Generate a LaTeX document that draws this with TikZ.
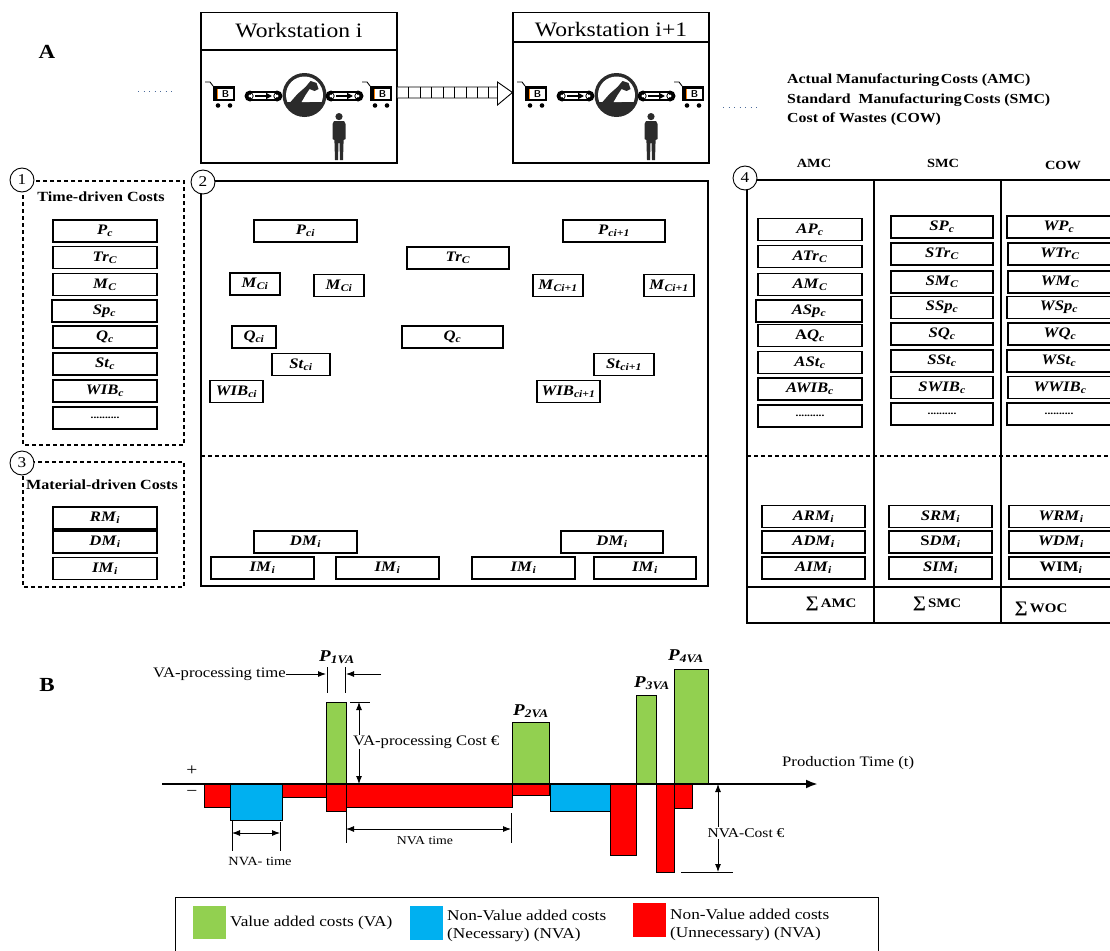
\documentclass[tikz,border=0pt]{standalone}
\usepackage{fontspec}
\setmainfont{Liberation Serif}[FakeStretch=1.15]
\usetikzlibrary{arrows.meta,calc}

\newcommand\fs[1]{\fontsize{#1}{#1}\selectfont}
% bold italic variable with bold italic subscript
\newcommand\cv[2]{\textbf{\textit{#1}}\textsubscript{\textbf{\textit{#2}}}}
\newcommand\dotrow{\textbf{\fs{10}..........}}
\newcommand\sumsign{{\fs{16}∑}}

\definecolor{vagreen}{HTML}{92D050}
\definecolor{nvblue}{HTML}{00B0F0}
\definecolor{nvred}{HTML}{FF0000}
\definecolor{icon}{HTML}{2B2B2B}
\definecolor{dotc}{HTML}{4A6A9A}

\tikzset{
  cbox/.style={draw, line width=1.1pt, minimum height=22, inner sep=0pt, font=\fs{14.5}},
  numc/.style={circle, draw, fill=white, line width=0.9pt, minimum size=24, inner sep=0pt, font=\fs{15}},
  dsh/.style={line width=1.1pt, dash pattern=on 4pt off 3pt},
  lbl/.style={inner sep=0pt, font=\fs{14}},
  arr/.style={line width=0.9pt, -{Latex[length=8,width=6]}},
  darr/.style={line width=0.9pt, {Latex[length=8,width=6]}-{Latex[length=8,width=6]}},
  bar/.style={draw=black, line width=0.8pt},
  cart/.pic={
    \draw[line width=0.9pt] (0,1) -- (5,1) -- (8,5);
    \fill[black] (8,5) rectangle (30,20);
    \fill[white] (12,7.5) rectangle (27.5,18);
    \draw[orange, line width=1pt] (12.8,8) -- (12.8,17.5);
    \node[inner sep=0pt, font=\sffamily\bfseries\fs{10}] (-b) at (20.5,12.8) {B};
    \fill[black] (13,24.5) circle (2.3) (25,24.5) circle (2.3);
  },
  conveyor/.pic={
    \fill[black] (5,0) circle (5.5) (32,0) circle (5.5);
    \filldraw[fill=white, draw=black, line width=1.2pt] (5,-4) rectangle (32,4);
    \fill[white] (5,0) circle (1.6) (32,0) circle (1.6);
    \draw[black, line width=0.8pt] (5,0) circle (3.2) (32,0) circle (3.2);
    \draw[line width=2pt, -{Triangle[length=6,width=6]}] (10,0) -- (27,0);
  },
  machine/.pic={
    \fill[icon] (0,0) circle (22);
    \begin{scope}
      \clip (0,0) circle (18.5);
      \fill[white] (-20,-20) rectangle (20,7);
    \end{scope}
    \fill[icon] (-14,7) -- (-7,-1) -- (1,-8) -- (6,-14) -- (12,-12) -- (14,-6)
      -- (10,-4) -- (5,-6) -- (1,0) -- (-3,7) -- cycle;
    \fill[white] (-3,7) -- (1,3) -- (5,7) -- cycle;
  },
  person/.pic={
    \fill[icon] (0,3.6) circle (3.6);
    \fill[icon] (-5,8) -- (5,8) -- (6.5,11) -- (6.5,26) -- (4.6,27) -- (4,47)
      -- (1,47) -- (0.5,30) -- (-0.5,30) -- (-1,47) -- (-4,47) -- (-4.6,27)
      -- (-6.5,26) -- (-6.5,11) -- cycle;
  }
}

\newcommand\bx[5]{\node[cbox, minimum width=#4] (#1) at (#2,#3) {#5};}

\begin{document}
\begin{tikzpicture}[x=1pt, y=-1pt]
\useasboundingbox (0,0) rectangle (1110,950);

% ---------------- part A: workstations ----------------
\node[font=\bfseries\fs{20}, inner sep=0pt] (labA) at (47,52) {A};

\draw[dotc, line width=1pt, dash pattern=on 1pt off 4.5pt] (138,91) -- (174,91);

\node[draw, line width=1.1pt, minimum width=196, minimum height=150.5, inner sep=0pt] (ws1) at (299,87.75) {};
\draw[line width=1.1pt] (ws1.west |- 0,50) -- (ws1.east |- 0,50);
\node[font=\fs{20.5}, inner sep=0pt] (ws1t) at (299,31) {Workstation i};

\node[draw, line width=1.1pt, minimum width=196, minimum height=150.5, inner sep=0pt] (ws2) at (611,87.75) {};
\draw[line width=1.1pt] (ws2.west |- 0,42) -- (ws2.east |- 0,42);
\node[font=\fs{20.5}, inner sep=0pt] (ws2t) at (611,30) {Workstation i+1};

% station equipment
\pic (ca1) at (205,81) {cart};
\pic (cv1) at (245,96) {conveyor};
\pic (mc1) at (304.5,95) {machine};
\pic (cv2) at (326,96) {conveyor};
\pic (ca2) at (362,81) {cart};
\pic (pe1) at (339,113) {person};

\pic (ca3) at (517,81) {cart};
\pic (cv3) at (557,96) {conveyor};
\pic (mc2) at (616.5,95) {machine};
\pic (cv4) at (638,96) {conveyor};
\pic (ca4) at (674,81) {cart};
\pic (pe2) at (651,113) {person};

% hollow transfer arrow between the stations
\coordinate (ha) at ($(ws1.east)+(0,4.75)$);
\coordinate (hb) at ($(ws2.west)+(0,4.75)$);
\draw[line width=0.9pt, fill=white]
  ($(ha)+(0,-5.5)$) -- ($(hb)+(-15,-5.5)$) -- ($(hb)+(-15,-10.5)$) -- (hb)
  -- ($(hb)+(-15,12.5)$) -- ($(hb)+(-15,5.5)$) -- ($(ha)+(0,5.5)$);
\foreach \k in {11,22.5,34,45.5,57,68.5,80,91} {
  \draw[line width=0.9pt] ($(ha)+(\k,-5.5)$) -- ($(ha)+(\k,5.5)$);
}
\draw[line width=0.9pt] ($(hb)+(-15,-5.5)$) -- ($(hb)+(-15,5.5)$);

\draw[dotc, line width=1pt, dash pattern=on 1pt off 4.5pt] (723,107) -- (759,107);

\node[anchor=west, font=\bfseries\fs{13.8}, inner sep=0pt] (tAMC) at (787,80) {Actual Manufacturing\hspace{0.12em}Costs (AMC)};
\node[anchor=west, font=\bfseries\fs{13.8}, inner sep=0pt] (tSMC) at (787,100) {Standard~ Manufacturing\hspace{0.12em}Costs (SMC)};
\node[anchor=west, font=\bfseries\fs{13.8}, inner sep=0pt] (tCOW) at (787,119) {Cost of Wastes (COW)};

% ---------------- panel 1: time-driven costs ----------------
\draw[dsh] (23,181) rectangle (184,445);
\node[numc] (n1) at (22,180) {1};
\node[font=\bfseries\fs{14}, inner sep=0pt] (h1) at (101,197) {Time-driven Costs};
\bx{a1}{105}{231}{104}{\cv{P}{c}}
\bx{a2}{105}{257.5}{104}{\cv{Tr}{C}}
\bx{a3}{105}{284.5}{104}{\cv{M}{C}}
\bx{a4}{104.5}{311}{105}{\cv{Sp}{c}}
\bx{a5}{105}{337}{104}{\cv{Q}{c}}
\bx{a6}{105}{364}{104}{\cv{St}{c}}
\bx{a7}{105}{391}{104}{\cv{WIB}{c}}
\bx{a8}{105}{418}{104}{\dotrow}

% ---------------- panel 3: material-driven costs ----------------
\draw[dsh] (23,462) rectangle (184,587);
\node[numc] (n3) at (22,463) {3};
\node[font=\bfseries\fs{14}, inner sep=0pt] (h3) at (102,485) {Material-driven Costs};
\bx{b1}{105}{518}{104}{\cv{RM}{i}}
\bx{b2}{105}{542}{104}{\cv{DM}{i}}
\bx{b3}{105}{568.5}{104}{\cv{IM}{i}}

% ---------------- panel 2: cost objects along the line ----------------
\draw[line width=1.1pt] (201,181) rectangle (708,586);
\node[numc] (n2) at (203,182) {2};
\draw[dsh] (201,456) -- (708,456);
\bx{c1}{305.5}{231}{103}{\cv{P}{ci}}
\bx{c2}{458}{258}{102}{\cv{Tr}{C}}
\bx{c3}{614}{231}{102}{\cv{P}{ci+1}}
\bx{c4}{255}{284}{50}{\cv{M}{Ci}}
\bx{c5}{339}{285.5}{50}{\cv{M}{Ci}}
\bx{c6}{558}{285.5}{50}{\cv{M}{Ci+1}}
\bx{c7}{669}{285.5}{50}{\cv{M}{Ci+1}}
\bx{c8}{254}{337}{44}{\cv{Q}{ci}}
\bx{c9}{452.5}{337}{101}{\cv{Q}{c}}
\bx{c10}{301}{364.5}{58}{\cv{St}{ci}}
\bx{c11}{624}{364.5}{60}{\cv{St}{ci+1}}
\bx{c12}{236.5}{391.5}{53}{\cv{WIB}{ci}}
\bx{c13}{568.5}{391.5}{63}{\cv{WIB}{ci+1}}
\bx{d1}{305.5}{542}{103}{\cv{DM}{i}}
\bx{d2}{612}{542}{102}{\cv{DM}{i}}
\bx{d3}{262.5}{568}{103}{\cv{IM}{i}}
\bx{d4}{387.5}{568}{103}{\cv{IM}{i}}
\bx{d5}{523.5}{568}{103}{\cv{IM}{i}}
\bx{d6}{645}{568}{102}{\cv{IM}{i}}

% ---------------- panel 4: AMC / SMC / COW table ----------------
\node[font=\bfseries\fs{12.5}, inner sep=0pt] (hA) at (814,163) {AMC};
\node[font=\bfseries\fs{12.5}, inner sep=0pt] (hS) at (943,163) {SMC};
\node[font=\bfseries\fs{12.5}, inner sep=0pt] (hC) at (1063,165) {COW};
\draw[line width=1.1pt] (1112,180) -- (747,180) -- (747,623) -- (1112,623);
\draw[line width=1.1pt] (874,180) -- (874,623);
\draw[line width=1.1pt] (1001,180) -- (1001,623);
\draw[dsh] (747,456) -- (1112,456);
\draw[line width=2.6pt] (747,587) -- (1112,587);
\node[numc] (n4) at (745,178) {4};

\bx{e1}{810}{229.5}{104}{\cv{AP}{c}}
\bx{e2}{810}{256.5}{104}{\cv{ATr}{C}}
\bx{e3}{810}{284.5}{104}{\cv{AM}{C}}
\bx{e4}{809}{311}{106}{\cv{ASp}{c}}
\bx{e5}{810}{335.5}{104}{\textbf{A}\cv{Q}{c}}
\bx{e6}{810}{362.5}{104}{\cv{ASt}{c}}
\bx{e7}{810}{389}{104}{\cv{AWIB}{c}}
\bx{e8}{810}{416}{104}{\dotrow}

\bx{f1}{942}{227}{102}{\cv{SP}{c}}
\bx{f2}{942}{254}{102}{\cv{STr}{C}}
\bx{f3}{942}{282}{102}{\cv{SM}{C}}
\bx{f4}{942}{307.5}{102}{\cv{SSp}{c}}
\bx{f5}{942}{334}{102}{\cv{SQ}{c}}
\bx{f6}{942}{361}{102}{\cv{SSt}{c}}
\bx{f7}{942}{387.5}{102}{\cv{SWIB}{c}}
\bx{f8}{942}{414}{102}{\dotrow}

\bx{g1}{1059}{227}{104}{\cv{WP}{c}}
\bx{g2}{1060}{254}{104}{\cv{WTr}{C}}
\bx{g3}{1060}{282}{104}{\cv{WM}{C}}
\bx{g4}{1059}{307.5}{104}{\cv{WSp}{c}}
\bx{g5}{1060}{334}{104}{\cv{WQ}{c}}
\bx{g6}{1059}{361}{104}{\cv{WSt}{c}}
\bx{g7}{1060}{387.5}{104}{\cv{WWIB}{c}}
\bx{g8}{1059}{414}{104}{\dotrow}

\bx{k1}{813.5}{516.5}{103}{\cv{ARM}{i}}
\bx{k2}{813.5}{542}{103}{\cv{ADM}{i}}
\bx{k3}{813.5}{568}{103}{\cv{AIM}{i}}
\bx{k4}{940.5}{516.5}{103}{\cv{SRM}{i}}
\bx{k5}{940.5}{542}{103}{\textbf{S}\cv{DM}{i}}
\bx{k6}{940.5}{568}{103}{\cv{SIM}{i}}
\bx{k7}{1061}{516.5}{104}{\cv{WRM}{i}}
\bx{k8}{1061}{542}{104}{\cv{WDM}{i}}
\bx{k9}{1061}{568}{104}{\textbf{WIM}\textsubscript{\textbf{\textit{i}}}}

\node[font=\bfseries\fs{13}, inner sep=0pt] (sA) at (831,604) {\sumsign\,AMC};
\node[font=\bfseries\fs{13}, inner sep=0pt] (sS) at (937,604) {\sumsign\,SMC};
\node[font=\bfseries\fs{13}, inner sep=0pt] (sW) at (1041,609) {\sumsign\,WOC};

% ---------------- part B: cost profile over production time ----------------
\node[font=\bfseries\fs{20}, inner sep=0pt] (labB) at (47,685) {B};

\fill[nvred,bar] (204,784) rectangle (230,807);
\fill[nvblue,bar] (230,784) rectangle (282,820);
\fill[nvred,bar] (282,784) rectangle (326,797);
\fill[vagreen,bar] (326,702) rectangle (346,784);
\fill[nvred,bar] (326,784) rectangle (346,811);
\fill[nvred,bar] (346,784) rectangle (512,807);
\fill[vagreen,bar] (512,722) rectangle (549,784);
\fill[nvred,bar] (512,784) rectangle (549,795);
\fill[nvblue,bar] (550,784) rectangle (610,811);
\fill[nvred,bar] (610,784) rectangle (636,855);
\fill[vagreen,bar] (636,695) rectangle (656,784);
\fill[nvred,bar] (656,784) rectangle (674,872);
\fill[vagreen,bar] (674,669) rectangle (708,784);
\fill[nvred,bar] (674,784) rectangle (692,808);

\coordinate (ax0) at (162,784);
\coordinate (ax1) at (818,784);
\draw[line width=2.4pt, -{Latex[length=12,width=9]}] (ax0) -- (ax1);
\node[lbl, font=\fs{14.5}, anchor=west] (ptime) at (782,763) {Production Time (t)};
\node[lbl, font=\fs{17}] (plus) at (192,771) {+};
\node[lbl, font=\fs{17}] (minus) at (192,793) {−};

\node[lbl, font=\fs{16.5}] (p1) at (337,657) {\cv{P}{1VA}};
\node[lbl, font=\fs{16.5}] (p2) at (531,711) {\cv{P}{2VA}};
\node[lbl, font=\fs{16.5}] (p3) at (652,683) {\cv{P}{3VA}};
\node[lbl, font=\fs{16.5}] (p4) at (686,656) {\cv{P}{4VA}};

% VA processing time marker
\node[lbl, font=\fs{14.5}, anchor=west] (vapt) at (153,674) {VA-processing time};
\coordinate (tl) at (326,674);
\coordinate (tr) at (346,674);
\coordinate (tro) at (381,674);
\draw[line width=0.9pt] (327,667) -- (327,693) (345,667) -- (345,693);
\draw[arr] (vapt.east) -- (tl);
\draw[arr] (tro) -- (tr);

% VA processing cost marker
\coordinate (vc0) at (359,702);
\coordinate (vc1) at (359,784);
\draw[line width=0.9pt] (350,702) -- (370,702);
\draw[darr] (vc0) -- (vc1);
\node[lbl, font=\fs{14.5}, fill=white, inner sep=1pt, anchor=west] (vapc) at (352,742) {VA-processing Cost €};

% NVA time markers
\coordinate (nt0) at (232,833);
\coordinate (nt1) at (280,833);
\draw[line width=0.9pt] (232,820) -- (232,851) (280,822) -- (280,851);
\draw[darr] (nt0) -- (nt1);
\node[lbl, font=\fs{12.5}] (ntl) at (260,861) {NVA- time};

\coordinate (nl0) at (346,829);
\coordinate (nl1) at (511,829);
\draw[line width=0.9pt] (346,811) -- (346,843) (511,813) -- (511,843);
\draw[darr] (nl0) -- (nl1);
\node[lbl, font=\fs{12}] (nll) at (425,841) {NVA time};

% NVA cost marker
\coordinate (nc0) at (718,784);
\coordinate (nc1) at (718,872);
\draw[line width=0.9pt] (681,872) -- (733,872);
\draw[darr] (nc0) -- (nc1);
\node[lbl, font=\fs{13.5}, fill=white, inner sep=1pt] (ncl) at (746,833) {NVA-Cost €};

% legend
\draw[line width=1pt] (175,955) -- (175,897) -- (878,897) -- (878,955);
\fill[vagreen] (193,906) rectangle (226,939);
\node[lbl, font=\fs{15}, anchor=west] (lg1) at (230,923) {Value added costs (VA)};
\fill[nvblue] (410,906) rectangle (443,940);
\node[lbl, font=\fs{15}, anchor=west, align=left] (lg2) at (447,926) {Non-Value added costs\\[3pt](Necessary) (NVA)};
\fill[nvred] (633,903) rectangle (666,937);
\node[lbl, font=\fs{15}, anchor=west, align=left] (lg3) at (670,925) {Non-Value added costs\\[3pt](Unnecessary) (NVA)};

\end{tikzpicture}
\end{document}
